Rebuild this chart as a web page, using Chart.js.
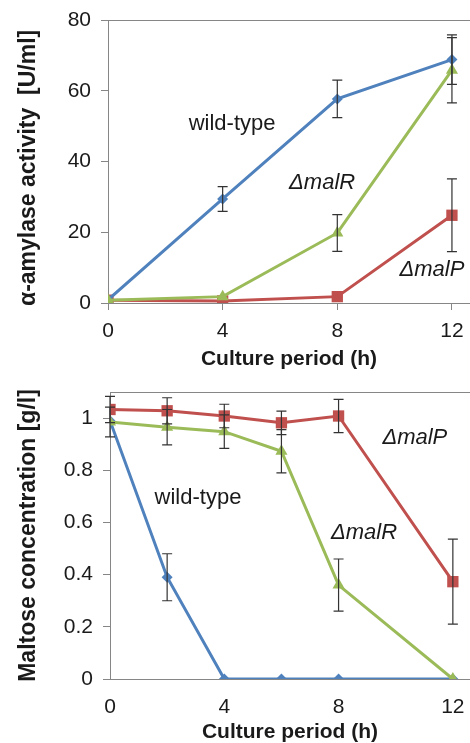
<!DOCTYPE html>
<html>
<head>
<meta charset="utf-8">
<script src="https://cdn.jsdelivr.net/npm/chart.js@4.4.1/dist/chart.umd.min.js"></script>
<style>
  html, body { margin: 0; padding: 0; background: #fff; width: 470px; height: 743px; overflow: hidden; }
  canvas { position: absolute; left: 0; }
  #amylase { top: 0; }
  #maltose { top: 370px; }
</style>
</head>
<body>
<canvas id="amylase" width="470" height="370"></canvas>
<canvas id="maltose" width="470" height="373"></canvas>
<script>
// top panel - alpha-amylase activity [U/ml]
var hoursA = [0, 4, 8, 12];
var wildA = [0.9, 29.4, 57.7, 68.8];
var wildAErr = [0, 3.5, 5.3, 7.0];
var malRA = [0.8, 1.8, 19.8, 65.8];
var malRAErr = [0, 0, 5.2, 9.2];
var malPA = [0.8, 0.6, 1.8, 24.8];
var malPAErr = [0, 0, 0, 10.3];
var xTicksA = [0, 4, 8, 12];
var yTicksA = [0, 20, 40, 60, 80];

// bottom panel - maltose concentration [g/l]
var hoursB = [0, 2, 4, 6, 8, 12];
var wildB = [0.99, 0.39, 0, 0, 0, 0];
var wildBErr = [0, 0.09, 0, 0, 0, 0];
var malRB = [0.985, 0.965, 0.948, 0.873, 0.36, 0];
var malRBErr = [0.057, 0.068, 0.064, 0.083, 0.1, 0];
var malPB = [1.033, 1.028, 1.008, 0.982, 1.008, 0.373];
var malPBErr = [0.05, 0.05, 0.045, 0.045, 0.064, 0.163];
var xTicksB = [0, 4, 8, 12];
var yTicksB = [0, 0.2, 0.4, 0.6, 0.8, 1];

var BLUE = '#4F81BD', RED = '#C0504D', GREEN = '#9BBB59', AXIS = '#868686', INK = '#1a1a1a';

Chart.defaults.font.family = '"Liberation Sans", Arial, sans-serif';
Chart.defaults.color = INK;

function pts(xs, ys) {
  return xs.map(function (x, i) { return { x: x, y: ys[i] }; });
}

// error bars, drawn through the chart's own scales
var errorBars = {
  id: 'errorBars',
  afterDatasetsDraw: function (chart) {
    var ctx = chart.ctx, ys = chart.scales.y;
    ctx.save();
    ctx.strokeStyle = '#333';
    ctx.lineWidth = 1.2;
    chart.data.datasets.forEach(function (ds, di) {
      var meta = chart.getDatasetMeta(di);
      (ds.errors || []).forEach(function (e, i) {
        if (!e) return;
        var px = meta.data[i].x;
        var v = ds.data[i].y;
        var top = ys.getPixelForValue(v + e), bot = ys.getPixelForValue(v - e);
        ctx.beginPath();
        ctx.moveTo(px, top); ctx.lineTo(px, bot);
        ctx.moveTo(px - 5, top); ctx.lineTo(px + 5, top);
        ctx.moveTo(px - 5, bot); ctx.lineTo(px + 5, bot);
        ctx.stroke();
      });
    });
    ctx.restore();
  }
};

// top edge of the plot frame + text labels next to the curves
var notes = {
  id: 'notes',
  beforeDatasetsDraw: function (chart) {
    var a = chart.chartArea, ctx = chart.ctx;
    ctx.save();
    ctx.strokeStyle = AXIS;
    ctx.lineWidth = 1;
    ctx.beginPath();
    ctx.moveTo(a.left, a.top + 0.5);
    ctx.lineTo(a.right, a.top + 0.5);
    ctx.stroke();
    ctx.restore();
  },
  afterDatasetsDraw: function (chart, args, opts) {
    var ctx = chart.ctx;
    ctx.save();
    ctx.fillStyle = INK;
    ctx.textAlign = 'center';
    ctx.textBaseline = 'middle';
    (opts.items || []).forEach(function (n) {
      ctx.font = (n.italic ? 'italic ' : '') + '22px "Liberation Sans", Arial, sans-serif';
      ctx.fillText(n.text, chart.scales.x.getPixelForValue(n.x), chart.scales.y.getPixelForValue(n.y));
    });
    ctx.restore();
  }
};

function series(label, xs, ys, errs, color, style, radius) {
  return {
    label: label,
    data: pts(xs, ys),
    errors: errs,
    borderColor: color,
    backgroundColor: color,
    borderWidth: 3,
    pointStyle: style,
    pointRadius: radius,
    pointBorderWidth: 0,
    tension: 0
  };
}

function makeChart(id, p) {
  return new Chart(document.getElementById(id), {
    type: 'line',
    data: { datasets: p.datasets },
    plugins: [errorBars, notes],
    options: {
      responsive: false,
      animation: false,
      devicePixelRatio: 1,
      layout: { autoPadding: false, padding: { top: p.padTop, right: 0, bottom: 0, left: 0 } },
      plugins: {
        legend: { display: false },
        tooltip: { enabled: false },
        notes: { items: p.notes }
      },
      scales: {
        x: {
          type: 'linear',
          min: 0,
          max: p.xMax,
          afterBuildTicks: function (s) { s.ticks = p.xTicks.map(function (v) { return { value: v }; }); },
          afterFit: function (s) { s.height = p.xAxisH; s.paddingRight = 0; s.paddingLeft = 0; },
          grid: { drawOnChartArea: false, drawTicks: p.xTickMarks, tickLength: 7, color: AXIS },
          border: { color: AXIS },
          ticks: { font: { size: 21 }, color: INK, padding: p.xTickMarks ? 9 : 16, maxRotation: 0, autoSkip: false },
          title: { display: true, text: 'Culture period (h)', font: { size: 21, weight: 'bold' }, color: INK, padding: { top: 0, bottom: -2 } }
        },
        y: {
          min: 0,
          max: p.yMax,
          afterBuildTicks: function (s) { s.ticks = p.yTicks.map(function (v) { return { value: v }; }); },
          afterFit: function (s) { s.width = p.areaLeft; s.paddingTop = 0; s.paddingBottom = 0; },
          grid: { drawOnChartArea: false, drawTicks: true, tickLength: 7, color: AXIS },
          border: { color: AXIS },
          ticks: { font: { size: 21 }, color: INK, padding: 10, callback: function (v) { return String(v); } },
          title: { display: true, text: p.yTitle, font: { size: 23, weight: 'bold' }, color: INK, padding: { top: 15, bottom: 0 } }
        }
      }
    }
  });
}

makeChart('amylase', {
  datasets: [
    series('\u0394malR', hoursA, malRA, malRAErr, GREEN, 'triangle', 7),
    series('wild-type', hoursA, wildA, wildAErr, BLUE, 'rectRot', 5.5),
    series('\u0394malP', hoursA, malPA, malPAErr, RED, 'rect', 8)
  ],
  xTicks: xTicksA, yTicks: yTicksA, xMax: 12.63, yMax: 80,
  padTop: 20, areaLeft: 108, xAxisH: 67, xTickMarks: true,
  yTitle: '\u03b1-amylase activity  [U/ml]\u00a0\u00a0',
  notes: [
    { text: 'wild-type', x: 4.33, y: 50.6 },
    { text: '\u0394malR', x: 7.47, y: 33.9, italic: true },
    { text: '\u0394malP', x: 11.3, y: 9.3, italic: true }
  ]
});

makeChart('maltose', {
  datasets: [
    series('\u0394malR', hoursB, malRB, malRBErr, GREEN, 'triangle', 7),
    series('wild-type', hoursB, wildB, wildBErr, BLUE, 'rectRot', 5.5),
    series('\u0394malP', hoursB, malPB, malPBErr, RED, 'rect', 8)
  ],
  xTicks: xTicksB, yTicks: yTicksB, xMax: 12.6, yMax: 1.1,
  padTop: 22, areaLeft: 110, xAxisH: 64, xTickMarks: false,
  yTitle: 'Maltose concentration [g/l]',
  notes: [
    { text: 'wild-type', x: 3.08, y: 0.693 },
    { text: '\u0394malP', x: 10.67, y: 0.923, italic: true },
    { text: '\u0394malR', x: 8.89, y: 0.559, italic: true }
  ]
});
</script>
</body>
</html>
